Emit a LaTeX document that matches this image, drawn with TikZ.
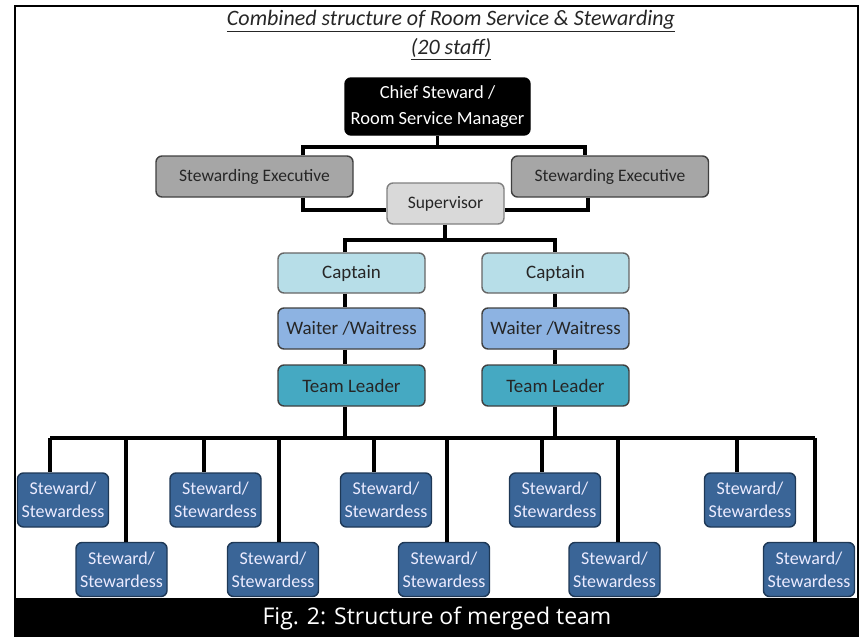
\documentclass[tikz,border=0pt]{standalone}
\usepackage{fontspec}
\setmainfont{Carlito}
\newfontfamily\capfont{Open Sans}
\definecolor{segray}{HTML}{A6A6A6}
\definecolor{supgray}{HTML}{D9D9D9}
\definecolor{capcol}{HTML}{B7DEE8}
\definecolor{waicol}{HTML}{8DB3E2}
\definecolor{tlcol}{HTML}{45A9C2}
\definecolor{stwcol}{HTML}{3A6597}
\definecolor{stwline}{HTML}{1E3856}
\definecolor{boxline}{HTML}{404040}
\definecolor{txt}{HTML}{262626}
\tikzset{
  box/.style={draw=boxline, rounded corners=6pt, line width=1.4pt, inner sep=0pt, align=center,
    minimum height=41pt, text=txt, font=\fontsize{19}{22}\selectfont},
  sebox/.style={box, fill=segray, minimum width=197pt, font=\fontsize{17.5}{20}\selectfont},
  colbox/.style={box, minimum width=147pt},
  stw/.style={draw=stwline, fill=stwcol, rounded corners=6pt, line width=1.4pt, inner sep=0pt,
    align=center, minimum width=91pt, minimum height=54pt, text=white!92!blue,
    font=\fontsize{18}{23}\selectfont},
  conn/.style={line width=3.2pt, draw=black},
}
\begin{document}
\begin{tikzpicture}[x=1pt,y=-1pt]
\useasboundingbox (0,0) rectangle (865,637);
% frame and caption band
\fill[black] (15,598) rectangle (858,637);
\draw[line width=2pt] (15,637) -- (15,6) -- (858,6) -- (858,637);
\node[text=white, font=\capfont\fontsize{23}{26}\selectfont] (caption) at (437,618) {Fig. 2: Structure of merged team};
% title
\node[text=txt, font=\itshape\fontsize{22}{25}\selectfont] (title1) at (451,21) {\underline{Combined structure of Room Service \& Stewarding}};
\node[text=txt, font=\itshape\fontsize{22}{25}\selectfont] (title2) at (451,49) {\underline{(20 staff)}};
% boxes
\node[box, draw=black, fill=black, text=white, minimum width=185pt, minimum height=57pt,
  font=\fontsize{18.5}{26}\selectfont] (chief) at (437.5,106.5) {Chief Steward /\\Room Service Manager};
\node[sebox] (seL) at (254.5,176.5) {Stewarding Executive};
\node[sebox] (seR) at (610,176.5) {Stewarding Executive};
\node[box, draw=gray, fill=supgray, minimum width=117pt, font=\fontsize{17.5}{20}\selectfont] (sup) at (445.5,203.5) {Supervisor};
\node[colbox, draw=gray!80!black, fill=capcol, minimum height=40pt] (capL) at (351.5,273) {Captain};
\node[colbox, draw=gray!80!black, fill=capcol, minimum height=40pt] (capR) at (555.5,273) {Captain};
\node[colbox, fill=waicol] (waiL) at (351.5,328.5) {Waiter /Waitress};
\node[colbox, fill=waicol] (waiR) at (555.5,328.5) {Waiter /Waitress};
\node[colbox, fill=tlcol] (tlL) at (351.5,385.5) {Team Leader};
\node[colbox, fill=tlcol] (tlR) at (555.5,385.5) {Team Leader};
% steward boxes
\node[stw] (s1) at (63,500) {Steward/\\Stewardess};
\node[stw] (s2) at (121.5,569.5) {Steward/\\Stewardess};
\node[stw] (s3) at (215.5,500) {Steward/\\Stewardess};
\node[stw] (s4) at (273,569.5) {Steward/\\Stewardess};
\node[stw] (s5) at (386,500) {Steward/\\Stewardess};
\node[stw] (s6) at (444,569.5) {Steward/\\Stewardess};
\node[stw] (s7) at (555,500) {Steward/\\Stewardess};
\node[stw] (s8) at (614.5,569.5) {Steward/\\Stewardess};
\node[stw] (s9) at (750,500) {Steward/\\Stewardess};
\node[stw] (s10) at (809,569.5) {Steward/\\Stewardess};
% connector coordinates
\coordinate (c1) at (303,147);
\coordinate (c2) at (585,147);
\coordinate (d1) at (303,210);
\coordinate (d2) at (588,210);
\coordinate (e1) at (345,240);
\coordinate (e2) at (555,240);
\coordinate (b1) at (50,438);
\coordinate (b2) at (126,438);
\coordinate (b3) at (204,438);
\coordinate (b4) at (279,438);
\coordinate (b5) at (374,438);
\coordinate (b6) at (447,438);
\coordinate (b7) at (542,438);
\coordinate (b8) at (618,438);
\coordinate (b9) at (737,438);
\coordinate (b10) at (815,438);
% connectors
\draw[conn] (chief.south) -- (chief.south |- c1);
\draw[conn] (c1 |- seL.north) -- (c1) -- (c2) -- (c2 |- seR.north);
\draw[conn] (d1 |- seL.south) -- (d1) -- (d1 -| sup.west);
\draw[conn] (d2 |- seR.south) -- (d2) -- (d2 -| sup.east);
\draw[conn] (sup.south -| 445,0) -- (445,240);
\draw[conn] (e1 |- capL.north) -- (e1) -- (e2) -- (e2 |- capR.north);
\draw[conn] (e1 |- capL.south) -- (e1 |- waiL.north);
\draw[conn] (e1 |- waiL.south) -- (e1 |- tlL.north);
\draw[conn] (e2 |- capR.south) -- (e2 |- waiR.north);
\draw[conn] (e2 |- waiR.south) -- (e2 |- tlR.north);
\draw[conn] (e1 |- tlL.south) -- (e1 |- b1);
\draw[conn] (e2 |- tlR.south) -- (e2 |- b1);
\draw[conn] (b1) -- (b10);
\draw[conn] (b1) -- (b1 |- s1.north);
\draw[conn] (b2) -- (b2 |- s2.north);
\draw[conn] (b3) -- (b3 |- s3.north);
\draw[conn] (b4) -- (b4 |- s4.north);
\draw[conn] (b5) -- (b5 |- s5.north);
\draw[conn] (b6) -- (b6 |- s6.north);
\draw[conn] (b7) -- (b7 |- s7.north);
\draw[conn] (b8) -- (b8 |- s8.north);
\draw[conn] (b9) -- (b9 |- s9.north);
\draw[conn] (b10) -- (b10 |- s10.north);
\end{tikzpicture}
\end{document}
